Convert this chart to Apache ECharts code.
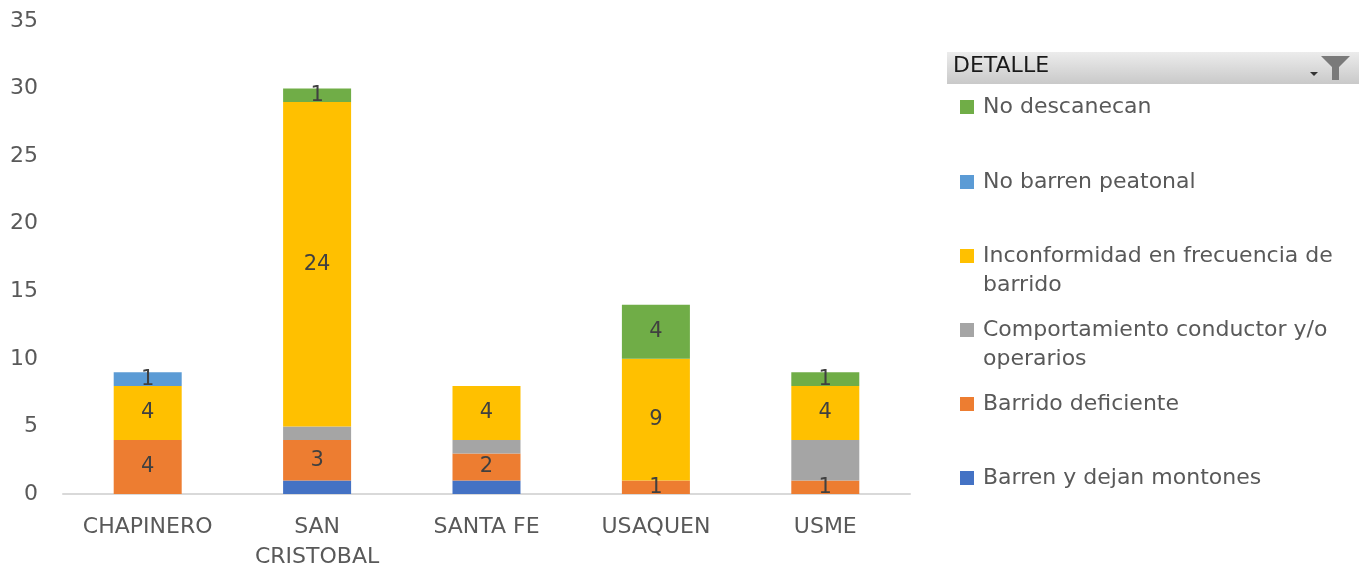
<!DOCTYPE html>
<html>
<head>
<meta charset="utf-8">
<script src="https://cdn.jsdelivr.net/npm/echarts@6/dist/echarts.min.js"></script>
<style>
html, body { margin: 0; padding: 0; background: #fff; }
#chart { width: 1359px; height: 564px; }
</style>
</head>
<body>
<div id="chart"></div>
<script>
const categories = ['CHAPINERO', 'SAN\nCRISTOBAL', 'SANTA FE', 'USAQUEN', 'USME']
const yTicks = [0, 5, 10, 15, 20, 25, 30, 35]
// stacked from bottom to top
const barrenMontones = [0, 1, 1, 0, 0]
const barridoDeficiente = [4, 3, 2, 1, 1]
const comportamiento = [0, 1, 1, 0, 3]
const inconformidad = [4, 24, 4, 9, 4]
const noBarrenPeatonal = [1, 0, 0, 0, 0]
const noDescanecan = [0, 1, 0, 4, 1]

const chart = echarts.init(document.getElementById('chart'))
const font = 'DejaVu Sans'

const mk = function (name, data, color, showLabel) {
    return {
        name: name,
        type: 'bar',
        stack: 'total',
        barWidth: 68,
        data: data.map(v => (v === 0 ? null : v)),
        itemStyle: { color: color },
        label: {
            show: showLabel,
            position: 'inside',
            color: '#404040',
            fontFamily: font,
            fontSize: 21
        }
    }
}

// legend rows, top to bottom
const legendRows = [
    { name: 'No descanecan', y: 107 },
    { name: 'No barren peatonal', y: 182 },
    { name: 'Inconformidad en frecuencia de barrido', y: 256, text: '\nInconformidad en frecuencia de\nbarrido' },
    { name: 'Comportamiento conductor y/o operarios', y: 330, text: '\nComportamiento conductor y/o\noperarios' },
    { name: 'Barrido deficiente', y: 404 },
    { name: 'Barren y dejan montones', y: 478 }
]
const legends = legendRows.map(r => ({
    data: [r.name],
    left: 960,
    top: r.text ? r.y - 43.5 : r.y - 14.5,
    padding: 0,
    itemWidth: 14,
    itemHeight: 14,
    icon: 'rect',
    selectedMode: false,
    formatter: () => r.text || r.name,
    textStyle: { color: '#595959', fontFamily: font, fontSize: 22, lineHeight: 29, padding: [0, 0, 0, 4] }
}))

const option = {
    animation: false,
    grid: { left: 63, right: 449, top: 21, bottom: 70, containLabel: false, outerBoundsMode: 'none' },
    legend: legends,
    xAxis: {
        type: 'category',
        data: categories,
        axisLine: { lineStyle: { color: '#d9d9d9', width: 2 } },
        axisTick: { show: false },
        axisLabel: { color: '#595959', fontFamily: font, fontSize: 22, lineHeight: 30, margin: 18 }
    },
    yAxis: {
        type: 'value',
        min: 0,
        max: 35,
        interval: 5,
        axisLine: { show: false },
        axisTick: { show: false },
        splitLine: { show: false },
        axisLabel: {
            color: '#595959', fontFamily: font, fontSize: 22, margin: 25,
            formatter: v => (yTicks.indexOf(v) >= 0 ? String(v) : '')
        }
    },
    graphic: [
        {
            type: 'rect',
            shape: { x: 947, y: 52, width: 412, height: 32 },
            style: {
                fill: new echarts.graphic.LinearGradient(0, 0, 0, 1, [
                    { offset: 0, color: '#ececec' },
                    { offset: 1, color: '#c9c9c9' }
                ])
            }
        },
        {
            type: 'text',
            left: 953,
            top: 55,
            style: { text: 'DETALLE', fill: '#1a1a1a', font: '22px "DejaVu Sans"' }
        },
        {
            type: 'polygon',
            shape: { points: [[1321, 56], [1350, 56], [1339, 67], [1339, 80], [1332, 80], [1332, 67]] },
            style: { fill: '#7a7a7a' }
        },
        {
            type: 'polygon',
            shape: { points: [[1310, 72], [1318, 72], [1314, 76]] },
            style: { fill: '#333' }
        }
    ],
    series: [
        mk('Barren y dejan montones', barrenMontones, '#4472c4', false),
        mk('Barrido deficiente', barridoDeficiente, '#ed7d31', true),
        mk('Comportamiento conductor y/o operarios', comportamiento, '#a5a5a5', false),
        mk('Inconformidad en frecuencia de barrido', inconformidad, '#ffc000', true),
        mk('No barren peatonal', noBarrenPeatonal, '#5b9bd5', true),
        mk('No descanecan', noDescanecan, '#70ad47', true)
    ]
}
chart.setOption(option)
window.addEventListener('resize', function () {
    chart.resize()
})
</script>
</body>
</html>
